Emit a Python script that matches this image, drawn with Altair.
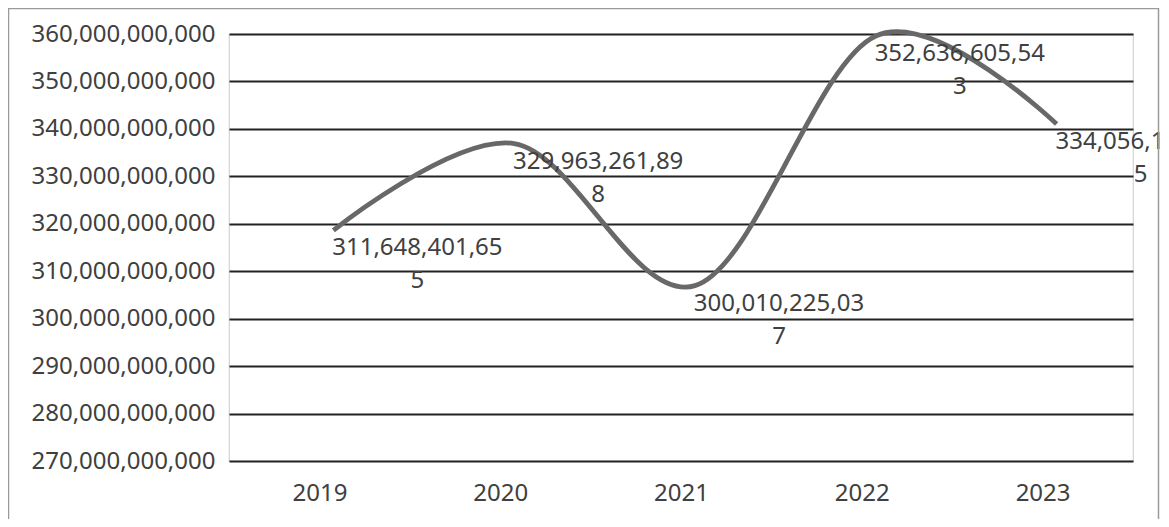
import altair as alt
import pandas as pd

years = ["2019", "2020", "2021", "2022", "2023"]
values = [311648401655, 329963261898, 300010225037, 352636605543, 334056150005]
y_ticks = [270e9, 280e9, 290e9, 300e9, 310e9, 320e9, 330e9, 340e9, 350e9, 360e9]


def wrap(v):
    s = f"{v:,}"
    return s[:14] + "\n" + s[14:]


df = pd.DataFrame({
    "year": years,
    "value": values,
    "label": [wrap(v) for v in values],
})

FONT = "Noto Sans"
TXT = "#404040"

x_enc = alt.X("year:O", sort=years, title=None,
              scale=alt.Scale(type="point", padding=0.5),
              axis=alt.Axis(labelAngle=0, ticks=False, domain=False, grid=False,
                            labelFont=FONT, labelFontSize=24, labelColor=TXT,
                            labelPadding=20))
y_enc = alt.Y("value:Q", title=None,
              scale=alt.Scale(domain=[270e9, 360e9], nice=False, zero=False),
              axis=alt.Axis(values=y_ticks, format=",d", ticks=False, domain=False,
                            grid=True, gridColor="#222222", gridWidth=1.8,
                            labelFont=FONT, labelFontSize=24, labelColor=TXT,
                            labelPadding=14, labelLimit=400))

base = alt.Chart(df)

line = base.mark_line(interpolate="cardinal", strokeWidth=4.8, color="#686868",
                      xOffset=14, yOffset=-33).encode(x=x_enc, y=y_enc)

labels = base.mark_text(align="center", baseline="middle", dx=98, dy=-15,
                        lineBreak="\n", lineHeight=33, font=FONT, fontSize=24,
                        color=TXT).encode(
    x=alt.X("year:O", sort=years), y=alt.Y("value:Q"), text="label:N")

frame = alt.Chart(pd.DataFrame({"a": [0]})).mark_rect(
    fill=None, stroke="#9a9a9a", strokeWidth=1.5).encode(
    x=alt.value(-220.5), x2=alt.value(929.5),
    y=alt.value(-25.5), y2=alt.value(700))

chart = alt.layer(line, labels, frame).properties(
    width=904, height=427,
    padding={"left": 221, "top": 26, "right": 27, "bottom": 58},
    autosize=alt.AutoSizeParams(type="none"),
).configure_view(stroke="#d4d4d4", strokeWidth=1.2)

chart.save("out.html", embed_options={"renderer": "svg", "actions": False})
